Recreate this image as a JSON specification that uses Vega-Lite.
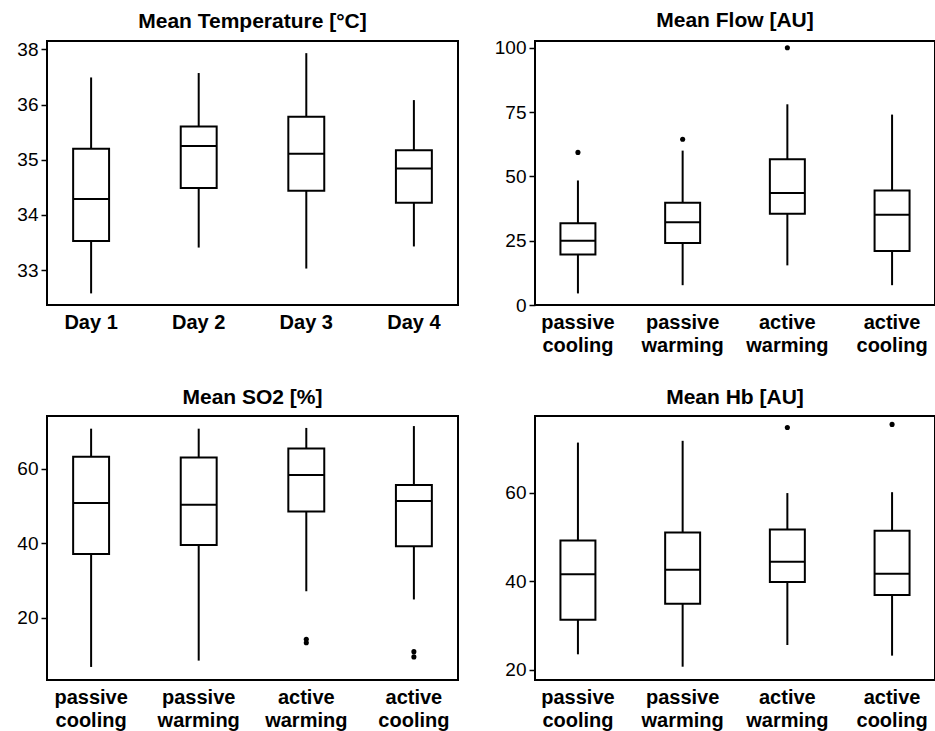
{
  "$schema": "https://vega.github.io/schema/vega-lite/v6.json",
  "padding": {"left": 15, "top": 8, "right": 0, "bottom": 0},
  "background": "white",
  "config": {
    "view": {"stroke": "black", "strokeWidth": 2},
    "font": "Liberation Sans",
    "tick": {"opacity": 1},
    "axis": {"domain": false, "grid": false, "labelFont": "Liberation Sans", "labelColor": "black", "tickColor": "black", "title": null},
    "axisY": {"labelFontSize": 19, "tickSize": 6, "tickWidth": 1.5, "labelPadding": 3, "format": "d"},
    "axisX": {"labelFontSize": 20, "labelFontWeight": "bold", "ticks": false, "labelPadding": 7, "labelAngle": 0, "labelLineHeight": 23},
    "title": {"fontSize": 21, "fontWeight": "bold", "font": "Liberation Sans", "offset": 8, "color": "black", "anchor": "middle", "frame": "group"}
  },
  "datasets": {
    "temp": [
      {"g": "Day 1", "lo": 32.58, "q1": 33.53, "med": 34.29, "q3": 35.20, "hi": 36.49},
      {"g": "Day 2", "lo": 33.41, "q1": 34.49, "med": 35.25, "q3": 35.60, "hi": 36.57},
      {"g": "Day 3", "lo": 33.03, "q1": 34.44, "med": 35.11, "q3": 35.78, "hi": 36.93},
      {"g": "Day 4", "lo": 33.43, "q1": 34.22, "med": 34.84, "q3": 35.17, "hi": 36.08}
    ],
    "flow": [
      {"g": "passive cooling", "lo": 4.5, "q1": 19.6, "med": 25.0, "q3": 31.8, "hi": 48.4},
      {"g": "passive warming", "lo": 7.7, "q1": 24.1, "med": 32.2, "q3": 39.7, "hi": 60.0},
      {"g": "active warming", "lo": 15.4, "q1": 35.5, "med": 43.5, "q3": 56.6, "hi": 78.0},
      {"g": "active cooling", "lo": 7.7, "q1": 21.0, "med": 35.1, "q3": 44.5, "hi": 74.0}
    ],
    "flowOut": [
      {"g": "passive cooling", "v": 59.3},
      {"g": "passive warming", "v": 64.4},
      {"g": "active warming", "v": 100}
    ],
    "so2": [
      {"g": "passive cooling", "lo": 6.8, "q1": 37.1, "med": 50.8, "q3": 63.2, "hi": 70.7},
      {"g": "passive warming", "lo": 8.5, "q1": 39.5, "med": 50.3, "q3": 63.0, "hi": 70.7},
      {"g": "active warming", "lo": 27.1, "q1": 48.5, "med": 58.3, "q3": 65.4, "hi": 70.9},
      {"g": "active cooling", "lo": 24.9, "q1": 39.2, "med": 51.3, "q3": 55.6, "hi": 71.4}
    ],
    "so2Out": [
      {"g": "active warming", "v": 14.2},
      {"g": "active warming", "v": 13.3},
      {"g": "active cooling", "v": 10.9},
      {"g": "active cooling", "v": 9.5}
    ],
    "hb": [
      {"g": "passive cooling", "lo": 23.5, "q1": 31.3, "med": 41.6, "q3": 49.2, "hi": 71.3},
      {"g": "passive warming", "lo": 20.7, "q1": 34.9, "med": 42.6, "q3": 51.0, "hi": 71.7},
      {"g": "active warming", "lo": 25.6, "q1": 39.8, "med": 44.4, "q3": 51.7, "hi": 59.9},
      {"g": "active cooling", "lo": 23.2, "q1": 36.9, "med": 41.7, "q3": 51.4, "hi": 60.1}
    ],
    "hbOut": [
      {"g": "active warming", "v": 74.7},
      {"g": "active cooling", "v": 75.4}
    ]
  },
  "columns": 2,
  "align": "each",
  "spacing": {"row": 30, "column": 34},
  "concat": [
    {
      "title": "Mean Temperature [°C]",
      "width": 411, "height": 264,
      "data": {"name": "temp"},
      "encoding": {
        "x": {"field": "g", "type": "nominal", "sort": null,
              "scale": {"domain": ["Day 1", "Day 2", "Day 3", "Day 4"], "paddingInner": 0.666, "paddingOuter": 0.243}}
      },
      "layer": [
        {"mark": {"type": "rule", "color": "black", "strokeWidth": 2},
         "encoding": {"y": {"field": "lo", "type": "quantitative",
                            "scale": {"domain": [32.37, 37.15], "nice": false, "zero": false},
                            "axis": {"values": [33, 34, 35, 36, 37], "labelExpr": "datum.value == 37 ? '38' : datum.label"}},
                      "y2": {"field": "hi"}}},
        {"mark": {"type": "bar", "fill": "white", "stroke": "black", "strokeWidth": 2},
         "encoding": {"y": {"field": "q1", "type": "quantitative"}, "y2": {"field": "q3"}}},
        {"mark": {"type": "tick", "color": "black", "thickness": 2, "size": 36, "opacity": 1},
         "encoding": {"y": {"field": "med", "type": "quantitative"}}}
      ]
    },
    {
      "title": "Mean Flow [AU]",
      "width": 400, "height": 264,
      "encoding": {
        "x": {"field": "g", "type": "nominal", "sort": null,
              "scale": {"domain": ["passive cooling", "passive warming", "active warming", "active cooling"], "paddingInner": 0.666, "paddingOuter": 0.243},
              "axis": {"labelExpr": "split(datum.label, ' ')"}}
      },
      "layer": [
        {"data": {"name": "flow"}, "mark": {"type": "rule", "color": "black", "strokeWidth": 2},
         "encoding": {"y": {"field": "lo", "type": "quantitative",
                            "scale": {"domain": [0, 102.6], "nice": false, "zero": false},
                            "axis": {"values": [0, 25, 50, 75, 100]}},
                      "y2": {"field": "hi"}}},
        {"data": {"name": "flow"}, "mark": {"type": "bar", "fill": "white", "stroke": "black", "strokeWidth": 2},
         "encoding": {"y": {"field": "q1", "type": "quantitative"}, "y2": {"field": "q3"}}},
        {"data": {"name": "flow"}, "mark": {"type": "tick", "color": "black", "thickness": 2, "size": 35, "opacity": 1},
         "encoding": {"y": {"field": "med", "type": "quantitative"}}},
        {"data": {"name": "flowOut"}, "mark": {"type": "point", "filled": true, "color": "black", "size": 26, "opacity": 1},
         "encoding": {"y": {"field": "v", "type": "quantitative"}}}
      ]
    },
    {
      "title": "Mean SO2 [%]",
      "width": 411, "height": 264,
      "encoding": {
        "x": {"field": "g", "type": "nominal", "sort": null,
              "scale": {"domain": ["passive cooling", "passive warming", "active warming", "active cooling"], "paddingInner": 0.666, "paddingOuter": 0.243},
              "axis": {"labelExpr": "split(datum.label, ' ')"}}
      },
      "layer": [
        {"data": {"name": "so2"}, "mark": {"type": "rule", "color": "black", "strokeWidth": 2},
         "encoding": {"y": {"field": "lo", "type": "quantitative",
                            "scale": {"domain": [3.3, 74.1], "nice": false, "zero": false},
                            "axis": {"values": [20, 40, 60]}},
                      "y2": {"field": "hi"}}},
        {"data": {"name": "so2"}, "mark": {"type": "bar", "fill": "white", "stroke": "black", "strokeWidth": 2},
         "encoding": {"y": {"field": "q1", "type": "quantitative"}, "y2": {"field": "q3"}}},
        {"data": {"name": "so2"}, "mark": {"type": "tick", "color": "black", "thickness": 2, "size": 36, "opacity": 1},
         "encoding": {"y": {"field": "med", "type": "quantitative"}}},
        {"data": {"name": "so2Out"}, "mark": {"type": "point", "filled": true, "color": "black", "size": 26, "opacity": 1},
         "encoding": {"y": {"field": "v", "type": "quantitative"}}}
      ]
    },
    {
      "title": "Mean Hb [AU]",
      "width": 400, "height": 264,
      "encoding": {
        "x": {"field": "g", "type": "nominal", "sort": null,
              "scale": {"domain": ["passive cooling", "passive warming", "active warming", "active cooling"], "paddingInner": 0.666, "paddingOuter": 0.243},
              "axis": {"labelExpr": "split(datum.label, ' ')"}}
      },
      "layer": [
        {"data": {"name": "hb"}, "mark": {"type": "rule", "color": "black", "strokeWidth": 2},
         "encoding": {"y": {"field": "lo", "type": "quantitative",
                            "scale": {"domain": [17.7, 77.3], "nice": false, "zero": false},
                            "axis": {"values": [20, 40, 60]}},
                      "y2": {"field": "hi"}}},
        {"data": {"name": "hb"}, "mark": {"type": "bar", "fill": "white", "stroke": "black", "strokeWidth": 2},
         "encoding": {"y": {"field": "q1", "type": "quantitative"}, "y2": {"field": "q3"}}},
        {"data": {"name": "hb"}, "mark": {"type": "tick", "color": "black", "thickness": 2, "size": 35, "opacity": 1},
         "encoding": {"y": {"field": "med", "type": "quantitative"}}},
        {"data": {"name": "hbOut"}, "mark": {"type": "point", "filled": true, "color": "black", "size": 26, "opacity": 1},
         "encoding": {"y": {"field": "v", "type": "quantitative"}}}
      ]
    }
  ]
}
